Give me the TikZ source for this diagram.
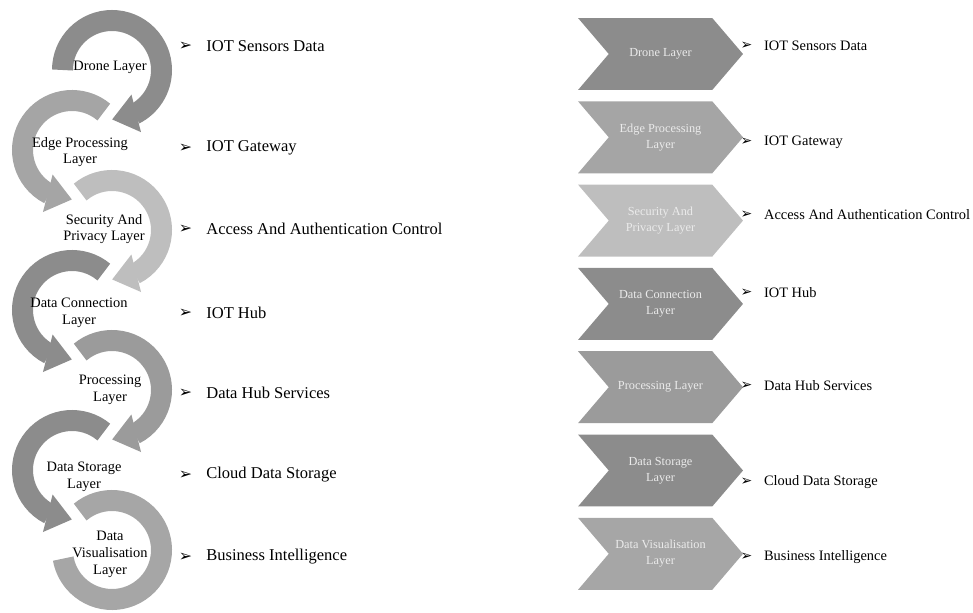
\documentclass[tikz,border=0pt]{standalone}
\usepackage{fontspec}
\setmainfont{Liberation Serif}
\newfontfamily\symfont{DejaVu Sans}
\usepackage{tikz}
\usetikzlibrary{arrows.meta}
\usetikzlibrary{bending}
\usetikzlibrary{shapes}
\usetikzlibrary{positioning}

\definecolor{gdrone}{HTML}{8C8C8C}
\definecolor{gedge}{HTML}{A5A5A5}
\definecolor{gsecure}{HTML}{BEBEBE}
\definecolor{gconn}{HTML}{8C8C8C}
\definecolor{gproc}{HTML}{9B9B9B}
\definecolor{gstore}{HTML}{8C8C8C}
\definecolor{gvis}{HTML}{A6A6A6}

\begin{document}
\begin{tikzpicture}[x=0.02cm, y=0.02cm]
            \tikzset{ring/.style={line width=0.42cm},
                    tip/.style={-{Triangle[width=0.74cm, length=0.5cm]}},
                    layer/.style={align=center, inner sep=0pt, font=\fontsize{8.2}{9.6}\selectfont},
                    chev/.style={signal, signal from=west, signal to=east, signal pointer angle=99,
                                 minimum width=3.3cm, minimum height=1.44cm, inner sep=0pt,
                                 align=center, text=black!8, font=\fontsize{7}{8.9}\selectfont},
                    bul/.style={inner sep=0pt, font=\symfont\fontsize{9}{10}\selectfont},
                    rbul/.style={inner sep=0pt, font=\symfont\fontsize{8}{9}\selectfont},
                    lefttext/.style={inner sep=0pt, font=\fontsize{9.4}{11}\selectfont},
                    righttext/.style={inner sep=0pt, font=\fontsize{8.2}{10}\selectfont}}
            \useasboundingbox (0,0) rectangle (973,612);
            % circular arrows
            \draw[ring, tip, draw=gdrone] (112,542) ++(180:49.5) arc[start angle=180, end angle=-90, radius=49.5];
            \draw[ring, tip, draw=gedge] (72,462) ++(50:49.5) arc[start angle=50, end angle=270, radius=49.5];
            \draw[ring, tip, draw=gsecure] (112,382) ++(130:49.5) arc[start angle=130, end angle=-90, radius=49.5];
            \draw[ring, tip, draw=gconn] (72,302) ++(50:49.5) arc[start angle=50, end angle=270, radius=49.5];
            \draw[ring, tip, draw=gproc] (112,222) ++(130:49.5) arc[start angle=130, end angle=-90, radius=49.5];
            \draw[ring, tip, draw=gstore] (72,142) ++(50:49.5) arc[start angle=50, end angle=270, radius=49.5];
            \draw[ring, draw=gvis] (112,62) ++(130:49.5) arc[start angle=130, end angle=-170, radius=49.5];
            \node[layer] (l1) at (110,545) {Drone Layer};
            \node[layer] (l2) at (80,460) {Edge Processing\\Layer};
            \node[layer] (l3) at (104,383) {Security And\\Privacy Layer};
            \node[layer] (l4) at (79,299) {Data Connection\\Layer};
            \node[layer] (l5) at (110,222) {Processing\\Layer};
            \node[layer] (l6) at (84,135) {Data  Storage\\Layer};
            \node[layer] (l7) at (110,58) {Data\\Visualisation\\Layer};
            % left list
            \node[bul] (b1) at (185.5,566) {➢};
            \node[bul] (b2) at (185.5,464) {➢};
            \node[bul] (b3) at (185.5,383) {➢};
            \node[bul] (b4) at (185.5,299) {➢};
            \node[bul] (b5) at (185.5,219) {➢};
            \node[bul] (b6) at (185.5,137) {➢};
            \node[bul] (b7) at (185.5,55) {➢};
            \node[lefttext, right=0.27cm of b1] (t1) {IOT Sensors Data};
            \node[lefttext, right=0.27cm of b2] (t2) {IOT Gateway};
            \node[lefttext, right=0.27cm of b3] (t3) {Access And Authentication Control};
            \node[lefttext, right=0.27cm of b4] (t4) {IOT Hub};
            \node[lefttext, right=0.27cm of b5] (t5) {Data Hub Services};
            \node[lefttext, right=0.27cm of b6] (t6) {Cloud Data Storage};
            \node[lefttext, right=0.27cm of b7] (t7) {Business Intelligence};
            % chevrons
            \node[chev, fill=gdrone] (c1) at (660.5,558) {Drone Layer};
            \node[chev, fill=gedge] (c2) at (660.5,474.7) {Edge Processing\\Layer};
            \node[chev, fill=gsecure] (c3) at (660.5,391.4) {Security And\\Privacy Layer};
            \node[chev, fill=gconn] (c4) at (660.5,308.1) {Data Connection\\Layer};
            \node[chev, fill=gproc] (c5) at (660.5,224.8) {Processing Layer};
            \node[chev, fill=gstore] (c6) at (660.5,141.5) {Data  Storage\\Layer};
            \node[chev, fill=gvis] (c7) at (660.5,58.2) {Data Visualisation\\Layer};
            % right list
            \node[rbul] (rb1) at (746.5,566) {➢};
            \node[rbul] (rb2) at (746.5,470) {➢};
            \node[rbul] (rb3) at (746.5,397) {➢};
            \node[rbul] (rb4) at (746.5,319) {➢};
            \node[rbul] (rb5) at (746.5,226) {➢};
            \node[rbul] (rb6) at (746.5,130) {➢};
            \node[rbul] (rb7) at (746.5,55) {➢};
            \node[righttext, right=0.22cm of rb1] (rt1) {IOT Sensors Data};
            \node[righttext, right=0.22cm of rb2] (rt2) {IOT Gateway};
            \node[righttext, right=0.22cm of rb3] (rt3) {Access And Authentication Control};
            \node[righttext, right=0.22cm of rb4] (rt4) {IOT Hub};
            \node[righttext, right=0.22cm of rb5] (rt5) {Data Hub Services};
            \node[righttext, right=0.22cm of rb6] (rt6) {Cloud Data Storage};
            \node[righttext, right=0.22cm of rb7] (rt7) {Business Intelligence};
\end{tikzpicture}
\end{document}
